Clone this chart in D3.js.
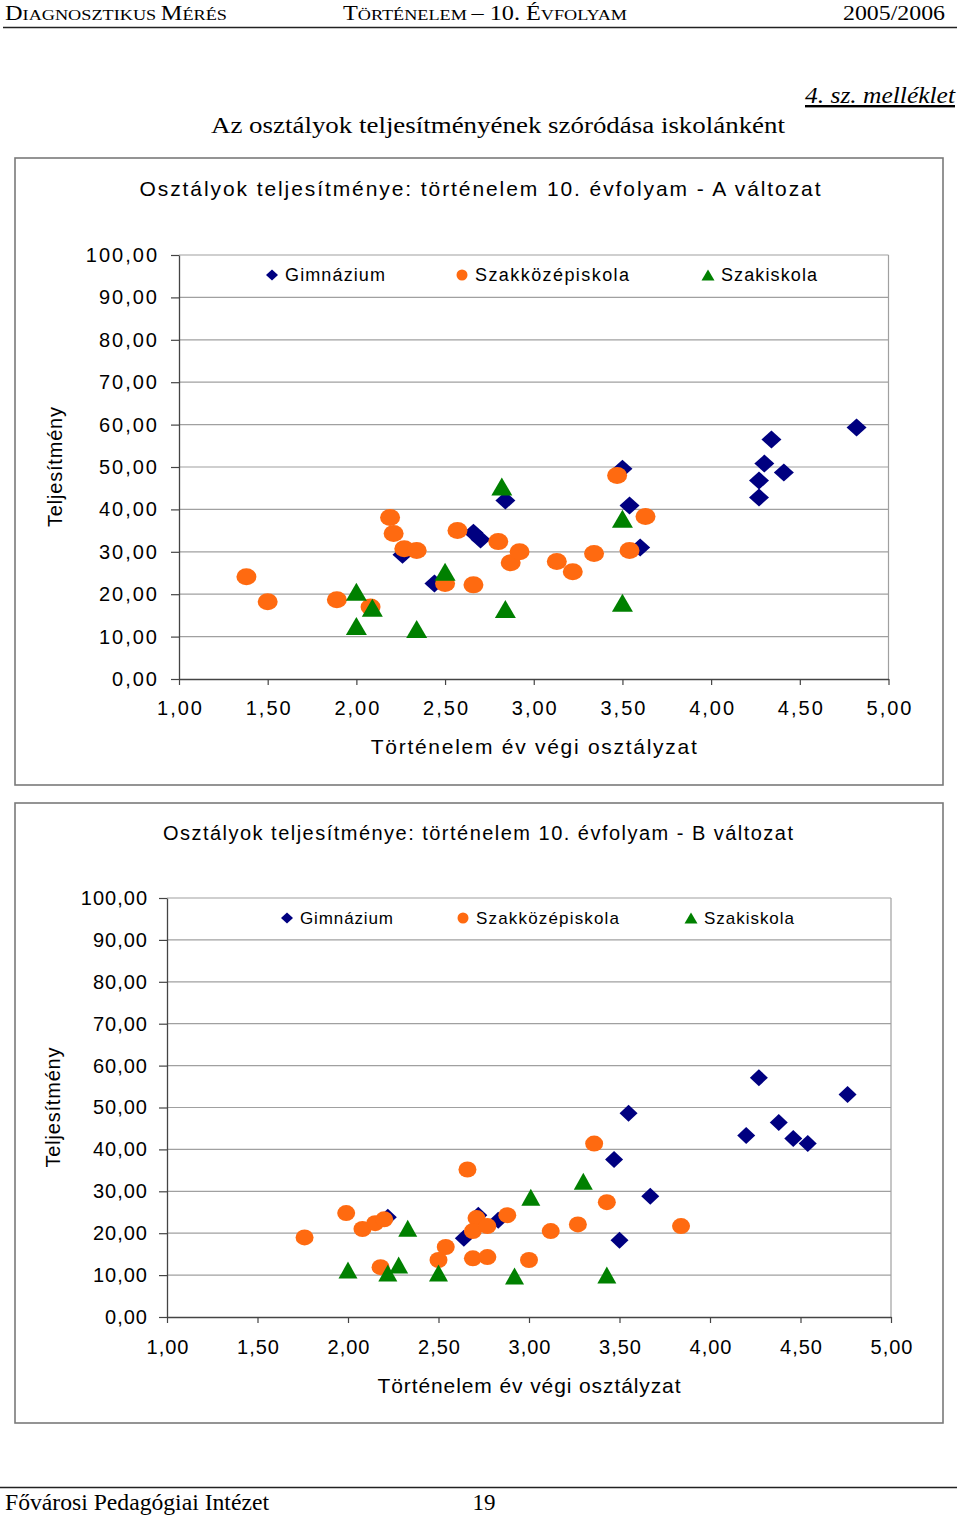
<!DOCTYPE html>
<html><head><meta charset="utf-8">
<script src="https://cdn.jsdelivr.net/npm/d3@7"></script>
<style>
body{margin:0;background:#fff}
svg text{font-family:"Liberation Sans",Arial,sans-serif;fill:#000}
.serif{font-family:"Liberation Serif","Times New Roman",serif !important}
</style>
</head><body>
<svg id="c" width="960" height="1516"></svg>
<script>
// ---------- data ----------
const xTicks = [1, 1.5, 2, 2.5, 3, 3.5, 4, 4.5, 5];
const yTicks = [0, 10, 20, 30, 40, 50, 60, 70, 80, 90, 100];
const seriesNames = ["Gimnázium", "Szakközépiskola", "Szakiskola"];
const titleA = "Osztályok teljesítménye: történelem 10. évfolyam - A változat";
const titleB = "Osztályok teljesítménye: történelem 10. évfolyam - B változat";
const xTitle = "Történelem év végi osztályzat";
const yTitle = "Teljesítmény";

// Chart A (x = év végi osztályzat, y = teljesítmény)
const gimnA = [[2.26,29.3],[2.44,22.5],[2.66,34.5],[2.70,32.9],[2.84,42.1],[3.50,49.6],[3.54,40.9],
  [3.60,31.0],[4.34,56.5],[4.30,50.8],[4.41,48.7],[4.27,46.8],[4.27,42.8],[4.82,59.3]];
const szkozA = [[1.38,24.1],[1.50,18.2],[1.89,18.7],[2.08,17.0],[2.19,38.1],[2.21,34.3],[2.27,30.7],
  [2.34,30.3],[2.50,22.5],[2.57,35.0],[2.66,22.2],[2.80,32.4],[2.87,27.4],[2.92,30.0],[3.13,27.7],
  [3.22,25.3],[3.34,29.6],[3.47,48.0],[3.54,30.3],[3.63,38.3]];
const szakA = [[2.00,20.6],[2.09,16.8],[2.00,12.5],[2.34,11.8],[2.50,25.3],[2.82,45.4],[2.84,16.5],
  [3.50,37.8],[3.50,18.0]];

// Chart B
const gimnB = [[2.22,23.8],[2.64,18.8],[2.72,24.3],[2.83,23.1],[3.55,48.6],[3.47,37.6],[3.67,28.8],
  [3.50,18.3],[4.27,57.1],[4.76,53.1],[4.38,46.4],[4.20,43.3],[4.46,42.6],[4.54,41.4]];
const szkozB = [[1.76,19.0],[1.99,24.8],[2.08,21.0],[2.15,22.4],[2.20,23.3],[2.18,11.9],[2.66,35.2],
  [2.54,16.7],[2.50,13.6],[2.71,23.6],[2.69,20.5],[2.77,21.7],[2.69,14.0],[2.77,14.3],[2.88,24.3],
  [3.00,13.6],[3.12,20.5],[3.27,22.1],[3.36,41.4],[3.43,27.4],[3.84,21.7]];
const szakB = [[2.00,11.2],[2.22,10.5],[2.28,12.4],[2.33,21.2],[2.50,10.5],[2.92,9.8],[3.01,28.6],
  [3.30,32.4],[3.43,10.0]];

// ---------- drawing ----------
const svg = d3.select("#c");
const colors = ["#000080", "#FF6A10", "#008000"];
const locale = d3.formatLocale({decimal: ",", thousands: " ", grouping: [3], currency: ["", ""]});
const fmt = locale.format(".2f");

function diamondPath(w, h) { return `M0,${-h}L${w},0L0,${h}L${-w},0Z`; }
function trianglePath(w, h) { return `M0,${-h/2}L${w/2},${h/2}L${-w/2},${h/2}Z`; }

// header
const head = svg.append("g").attr("class", "hdr");
function smallCaps(parent, parts, x, y, anchor, len) {
  const t = parent.append("text").attr("class", "serif").attr("x", x).attr("y", y)
    .attr("text-anchor", anchor);
  parts.forEach(p => t.append("tspan").attr("font-size", p[1]).text(p[0]));
  if (len) t.attr("textLength", len).attr("lengthAdjust", "spacingAndGlyphs");
  return t;
}
smallCaps(head, [["D",20],["IAGNOSZTIKUS ",15],["M",20],["ÉRÉS",15]], 5, 20, "start", 222);
smallCaps(head, [["T",20],["ÖRTÉNELEM ",15],["– 10. É",20],["VFOLYAM",15]], 343, 20, "start", 284);
smallCaps(head, [["2005/2006",20]], 843, 20, "start", 102);
head.append("line").attr("x1", 3).attr("x2", 957).attr("y1", 27.5).attr("y2", 27.5)
  .attr("stroke", "#222").attr("stroke-width", 1.5);

svg.append("text").attr("class", "serif").attr("x", 805).attr("y", 103)
  .attr("font-size", 24).attr("font-style", "italic").attr("text-decoration", "underline")
  .attr("textLength", 150).attr("lengthAdjust", "spacingAndGlyphs").text("4. sz. melléklet");
svg.append("text").attr("class", "serif").attr("x", 211).attr("y", 133)
  .attr("font-size", 24).attr("textLength", 574).attr("lengthAdjust", "spacingAndGlyphs")
  .text("Az osztályok teljesítményének szóródása iskolánként");

// footer
svg.append("line").attr("x1", 0).attr("x2", 957).attr("y1", 1487.5).attr("y2", 1487.5)
  .attr("stroke", "#222").attr("stroke-width", 1.5);
svg.append("text").attr("class", "serif").attr("x", 5).attr("y", 1510).attr("font-size", 23)
  .attr("textLength", 264).attr("lengthAdjust", "spacingAndGlyphs").text("Fővárosi Pedagógiai Intézet");
svg.append("text").attr("class", "serif").attr("x", 484).attr("y", 1510).attr("font-size", 23)
  .attr("text-anchor", "middle").text("19");

function drawChart(cfg, title, data) {
  const x = d3.scaleLinear().domain([1, 5]).range([cfg.x0, cfg.x1]);
  const y = d3.scaleLinear().domain([0, 100]).range([cfg.yb, cfg.yt]);
  const g = svg.append("g");

  g.append("rect").attr("x", cfg.fx).attr("y", cfg.fy).attr("width", cfg.fw).attr("height", cfg.fh)
    .attr("fill", "#fff").attr("stroke", "#7a7a7a").attr("stroke-width", 1.6);

  g.append("text").attr("x", (cfg.x0 + cfg.x1) / 2 - 54).attr("y", cfg.titleY)
    .attr("text-anchor", "middle").attr("dominant-baseline", "central")
    .attr("font-size", cfg.titleSize).attr("textLength", cfg.titleLen).attr("lengthAdjust", "spacing")
    .attr("x", cfg.titleX).text(title);

  // gridlines and plot border
  g.append("g").selectAll("line").data(yTicks.filter(v => v > 0)).join("line")
    .attr("x1", cfg.x0).attr("x2", cfg.x1).attr("y1", d => y(d)).attr("y2", d => y(d))
    .attr("stroke", "#a0a0a0").attr("stroke-width", 1.2);
  g.append("line").attr("x1", cfg.x1).attr("x2", cfg.x1).attr("y1", cfg.yt).attr("y2", cfg.yb)
    .attr("stroke", "#a0a0a0").attr("stroke-width", 1.2);

  // axes
  const ya = g.append("g").attr("transform", `translate(${cfg.x0},0)`)
    .call(d3.axisLeft(y).tickValues(yTicks).tickSize(8).tickSizeOuter(0).tickPadding(cfg.yPad).tickFormat(fmt));
  const xa = g.append("g").attr("transform", `translate(0,${cfg.yb})`)
    .call(d3.axisBottom(x).tickValues(xTicks).tickSize(6).tickSizeOuter(0).tickFormat(fmt));
  [ya, xa].forEach(a => {
    a.select(".domain").attr("stroke", "#444").attr("stroke-width", 1.3);
    a.selectAll(".tick line").attr("stroke", "#444").attr("stroke-width", 1.2);
    a.selectAll("text").attr("font-size", cfg.tickSize).attr("fill", "#000")
      .attr("font-family", '"Liberation Sans",Arial,sans-serif').style("letter-spacing", cfg.ls + "px");
  });
  xa.selectAll("text").attr("y", cfg.xLabDy).attr("dy", "0.35em").attr("dx", cfg.ls / 2);

  // axis titles
  g.append("text").attr("x", (cfg.x0 + cfg.x1) / 2).attr("y", cfg.xTitleY)
    .attr("text-anchor", "middle").attr("dominant-baseline", "central").attr("font-size", 21)
    .attr("textLength", cfg.xTitleLen).attr("lengthAdjust", "spacing").text(xTitle);
  g.append("text").attr("transform", `translate(${cfg.yTitleX},${(cfg.yt + cfg.yb) / 2}) rotate(-90)`)
    .attr("text-anchor", "middle").attr("dominant-baseline", "central").attr("font-size", 20)
    .attr("textLength", 120).attr("lengthAdjust", "spacing").text(yTitle);

  // markers
  const m = cfg.m;
  g.append("g").selectAll("path").data(data[0]).join("path")
    .attr("d", diamondPath(m.dw, m.dh)).attr("fill", colors[0])
    .attr("transform", d => `translate(${x(d[0])},${y(d[1])})`);
  g.append("g").selectAll("ellipse").data(data[1]).join("ellipse")
    .attr("cx", d => x(d[0])).attr("cy", d => y(d[1])).attr("rx", m.rx).attr("ry", m.ry)
    .attr("fill", colors[1]);
  g.append("g").selectAll("path").data(data[2]).join("path")
    .attr("d", trianglePath(m.tw, m.th)).attr("fill", colors[2])
    .attr("transform", d => `translate(${x(d[0])},${y(d[1])})`);

  // legend
  const lg = g.append("g");
  seriesNames.forEach((name, i) => {
    const lx = cfg.legX[i], ly = cfg.legY;
    if (i === 0) lg.append("path").attr("d", diamondPath(6, 5.5)).attr("fill", colors[0])
      .attr("transform", `translate(${lx},${ly})`);
    if (i === 1) lg.append("circle").attr("cx", lx).attr("cy", ly).attr("r", 5.5).attr("fill", colors[1]);
    if (i === 2) lg.append("path").attr("d", trianglePath(13, 11)).attr("fill", colors[2])
      .attr("transform", `translate(${lx},${ly})`);
    lg.append("text").attr("x", lx + 13).attr("y", ly).attr("dominant-baseline", "central")
      .attr("font-size", cfg.legSize).attr("textLength", cfg.legLen[i]).attr("lengthAdjust", "spacing")
      .text(name);
  });
}

drawChart({
  fx: 15, fy: 158, fw: 928, fh: 627,
  x0: 179, x1: 888.5, yt: 255, yb: 679,
  titleX: 480, titleY: 188, titleSize: 21, titleLen: 681,
  yPad: 12, tickSize: 20, ls: 2, xLabDy: 29,
  xTitleY: 746, xTitleLen: 326, yTitleX: 55,
  legX: [272, 462, 708], legY: 275, legSize: 18, legLen: [100, 154, 96],
  m: {dw: 10, dh: 9, rx: 10, ry: 8.5, tw: 21, th: 18}
}, titleA, [gimnA, szkozA, szakA]);

drawChart({
  fx: 15, fy: 803, fw: 928, fh: 620,
  x0: 167, x1: 891, yt: 898, yb: 1317,
  titleX: 478, titleY: 833, titleSize: 20, titleLen: 630,
  yPad: 11, tickSize: 20, ls: 1, xLabDy: 30,
  xTitleY: 1385, xTitleLen: 303, yTitleX: 53,
  legX: [287, 463, 691], legY: 918, legSize: 17, legLen: [93, 143, 90],
  m: {dw: 9, dh: 8.5, rx: 9, ry: 8, tw: 19, th: 17}
}, titleB, [gimnB, szkozB, szakB]);
</script>
</body></html>
